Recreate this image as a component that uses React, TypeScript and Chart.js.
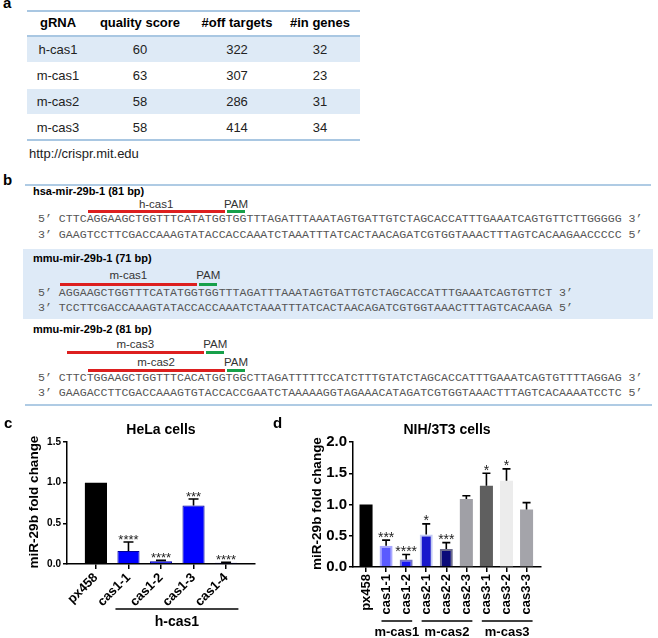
import React, { useEffect, useRef } from 'react';
import { Chart, registerables } from 'chart.js';
Chart.register(...registerables);

const FONT = '"Liberation Sans", Arial, Helvetica, sans-serif';
const MONO = '"Liberation Mono", "Courier New", monospace';

// ---------- panel a data ----------
const tableHeaders = ['gRNA', 'quality score', '#off targets', '#in genes'];
const gRNANames = ['h-cas1', 'm-cas1', 'm-cas2', 'm-cas3'];
const qualityScores = [60, 63, 58, 58];
const offTargets = [322, 307, 286, 414];
const inGenes = [32, 23, 31, 34];
const sourceUrl = 'http://crispr.mit.edu';

// ---------- panel b data ----------
const seqTitles = ['hsa-mir-29b-1 (81 bp)', 'mmu-mir-29b-1 (71 bp)', 'mmu-mir-29b-2 (81 bp)'];
const seqTop = [
  'CTTCAGGAAGCTGGTTTCATATGGTGGTTTAGATTTAAATAGTGATTGTCTAGCACCATTTGAAATCAGTGTTCTTGGGGG',
  'AGGAAGCTGGTTTCATATGGTGGTTTAGATTTAAATAGTGATTGTCTAGCACCATTTGAAATCAGTGTTCT',
  'CTTCTGGAAGCTGGTTTCACATGGTGGCTTAGATTTTTCCATCTTTGTATCTAGCACCATTTGAAATCAGTGTTTTAGGAG',
];
const seqBottom = [
  'GAAGTCCTTCGACCAAAGTATACCACCAAATCTAAATTTATCACTAACAGATCGTGGTAAACTTTAGTCACAAGAACCCCC',
  'TCCTTCGACCAAAGTATACCACCAAATCTAAATTTATCACTAACAGATCGTGGTAAACTTTAGTCACAAGA',
  'GAAGACCTTCGACCAAAGTGTACCACCGAATCTAAAAAGGTAGAAACATAGATCGTGGTAAACTTTAGTCACAAAATCCTC',
];
const guideNames = [['h-cas1'], ['m-cas1'], ['m-cas3', 'm-cas2']];
const guideStarts = [[4], [0], [1, 4]];
const guideLengths = [[20], [20], [20, 20]];
const pamLength = 3;

// ---------- panel c data ----------
const helaLabels = ['px458', 'cas1-1', 'cas1-2', 'cas1-3', 'cas1-4'];
const helaMeans = [1.0, 0.16, 0.035, 0.72, 0.015];
const helaErrors = [0, 0.11, 0.01, 0.08, 0.006];
const helaStars = ['', '****', '****', '***', '****'];
const helaGroupLabels = ['h-cas1'];
const helaGroupFrom = [1];
const helaGroupTo = [4];
const helaTicks = [0, 0.5, 1.0, 1.5];

// ---------- panel d data ----------
const nihLabels = ['px458', 'cas1-1', 'cas1-2', 'cas2-1', 'cas2-2', 'cas2-3', 'cas3-1', 'cas3-2', 'cas3-3'];
const nihMeans = [1.0, 0.34, 0.12, 0.52, 0.29, 1.09, 1.30, 1.38, 0.92];
const nihErrors = [0, 0.09, 0.08, 0.17, 0.10, 0.05, 0.20, 0.19, 0.11];
const nihStars = ['', '***', '****', '*', '***', '', '*', '*', ''];
const nihGroupLabels = ['m-cas1', 'm-cas2', 'm-cas3'];
const nihGroupFrom = [1, 3, 6];
const nihGroupTo = [2, 5, 8];
const nihTicks = [0, 0.5, 1.0, 1.5, 2.0];

const helaFill = ['#000000', '#0000ff', '#0000ff', '#0000ff', '#0000ff'];
const helaBorder = ['#000000', '#00009a', '#00009a', '#00009a', '#00009a'];
const nihFill = ['#000000', '#5a5aff', '#1616f2', '#1818cc', '#0b0b7a', '#a0a0a6', '#5f5f5f', '#ececec', '#a4a4aa'];
const nihBorder = ['#000000', '#a8a8ff', '#7474c4', '#c4ccf4', '#6c6c8c', '#a0a0a6', '#5f5f5f', '#ececec', '#a4a4aa'];

// ---------- helpers ----------
type TP = { x: number; y: number; s?: number; b?: boolean; a?: 'left' | 'center'; c?: string; f?: string; children: any };
function T({ x, y, s = 13, b = false, a = 'left', c = '#000', f = FONT, children }: TP) {
  return (
    <div
      style={{
        position: 'absolute', left: x, top: y - s, height: s * 2, lineHeight: `${s * 2}px`,
        fontSize: s, fontWeight: b ? 700 : 400, fontFamily: f, color: c, whiteSpace: 'pre',
        transform: a === 'center' ? 'translateX(-50%)' : undefined,
      }}
    >
      {children}
    </div>
  );
}
function Rect({ x, y, w, h, c }: { x: number; y: number; w: number; h: number; c: string }) {
  return <div style={{ position: 'absolute', left: x, top: y, width: w, height: h, background: c }} />;
}

function PanelA() {
  const colX = [58, 140, 237, 320];
  const rowTop = 36, rowH = 26;
  const lineC = '#a9c7e2';
  const rows = gRNANames.map((g, i) => [g, qualityScores[i], offTargets[i], inGenes[i]]);
  return (
    <>
      <T x={3} y={3} s={15} b>a</T>
      <Rect x={27} y={10} w={333} h={2} c={lineC} />
      {tableHeaders.map((h, j) => (
        <T key={h} x={colX[j]} y={23} s={13} b a="center">{h}</T>
      ))}
      <Rect x={27} y={35} w={333} h={2} c={lineC} />
      {rows.map((r, i) => (
        <React.Fragment key={i}>
          {i % 2 === 0 && <Rect x={27} y={rowTop + 1 + i * rowH} w={333} h={rowH - 1} c="#deeaf6" />}
          {r.map((v, j) => (
            <T key={j} x={colX[j]} y={rowTop + i * rowH + rowH / 2 + 0.5} s={13} a="center" c="#222">{String(v)}</T>
          ))}
        </React.Fragment>
      ))}
      <Rect x={27} y={139} w={333} h={2} c={lineC} />
      <T x={29} y={154} s={13} c="#222">{sourceUrl}</T>
    </>
  );
}

function PanelB() {
  const cw = 6.95;
  const fs = cw / 0.6;
  const seqX = 38;
  const baseX = seqX + 3 * cw;
  const lineC = '#afcbe4';
  const layout = [
    { title: 191, guides: [[204, 211]], top: 219, bottom: 235 },
    { title: 258, guides: [[275, 284]], top: 293, bottom: 308 },
    { title: 329, guides: [[344, 352], [362, 370]], top: 378, bottom: 393 },
  ];
  return (
    <>
      <T x={3} y={180} s={15} b>b</T>
      <Rect x={25} y={184} w={626} h={2} c={lineC} />
      <Rect x={23} y={249} w={630} h={70} c="#deeaf7" />
      {layout.map((L, k) => (
        <React.Fragment key={k}>
          <T x={33} y={L.title} s={11} b>{seqTitles[k]}</T>
          {guideNames[k].map((g, gi) => {
            const [ly, lny] = L.guides[gi];
            const s0 = baseX + guideStarts[k][gi] * cw;
            const s1 = baseX + (guideStarts[k][gi] + guideLengths[k][gi]) * cw;
            const p1 = s1 + pamLength * cw;
            return (
              <React.Fragment key={g}>
                <Rect x={s0 + 1} y={lny - 1.5} w={s1 - s0 - 2} h={3} c="#dd1f1f" />
                <Rect x={s1 + 1.5} y={lny - 1.5} w={p1 - s1 - 3} h={3} c="#17a04a" />
                <T x={(s0 + s1) / 2} y={ly} s={11.5} a="center" c="#333">{g}</T>
                <T x={(s1 + p1) / 2} y={ly} s={11.5} a="center" c="#333">PAM</T>
              </React.Fragment>
            );
          })}
          <T x={seqX} y={L.top} s={fs} f={MONO} c="#555">{'5\u2019 ' + seqTop[k] + ' 3\u2019'}</T>
          <T x={seqX} y={L.bottom} s={fs} f={MONO} c="#555">{'3\u2019 ' + seqBottom[k] + ' 5\u2019'}</T>
        </React.Fragment>
      ))}
      <Rect x={25} y={404} w={627} h={2} c={lineC} />
    </>
  );
}

type Cfg = {
  left: number; top: number; width: number; height: number;
  area: { left: number; top: number; right: number; bottom: number };
  labels: string[]; means: number[]; errors: number[]; stars: string[];
  fill: string[]; border: string[]; borderWidth: number[];
  xMin: number; xMax: number; rot: number; xTickFont: number; xTickPad: number; yTicks: number[]; yTickFont: number;
  barPct: number; capHalf: number; starSize: number; starOffset: number;
  title: string; letter: string; letterX: number; yTitleX: number;
  groupLabels: string[]; groupFrom: number[]; groupTo: number[];
  padL: number; padR: number; bracketY: number; groupLabelY: number; groupFont: number;
};

function overlay(cfg: Cfg) {
  return {
    id: 'overlay',
    afterDatasetsDraw(chart: any) {
      const ctx = chart.ctx;
      const xs = chart.scales.x, ys = chart.scales.y;
      ctx.save();
      ctx.strokeStyle = '#000';
      ctx.fillStyle = '#222';
      ctx.lineWidth = 1.6;
      cfg.means.forEach((m, i) => {
        const e = cfg.errors[i];
        const px = xs.getPixelForValue(i);
        const yt = ys.getPixelForValue(m + e);
        const yb = ys.getPixelForValue(m);
        if (e > 0) {
          ctx.beginPath();
          ctx.moveTo(px, yb);
          ctx.lineTo(px, yt);
          ctx.moveTo(px - cfg.capHalf, yt);
          ctx.lineTo(px + cfg.capHalf, yt);
          ctx.stroke();
        }
        if (cfg.stars[i]) {
          ctx.font = `${cfg.starSize}px ${FONT}`;
          ctx.textAlign = 'center';
          ctx.textBaseline = 'alphabetic';
          ctx.fillText(cfg.stars[i], px, yt + cfg.starOffset);
        }
      });
      ctx.restore();
    },
    afterDraw(chart: any) {
      const ctx = chart.ctx;
      const xs = chart.scales.x;
      const ca = chart.chartArea;
      ctx.save();
      ctx.fillStyle = '#000';
      ctx.strokeStyle = '#000';
      ctx.font = `bold 15px ${FONT}`;
      ctx.textAlign = 'left';
      ctx.textBaseline = 'alphabetic';
      ctx.fillText(cfg.letter, cfg.letterX, 18);
      ctx.font = `bold 14px ${FONT}`;
      ctx.textAlign = 'center';
      ctx.textBaseline = 'middle';
      ctx.fillText(cfg.title, (ca.left + ca.right) / 2, 20);
      ctx.save();
      ctx.translate(cfg.yTitleX, (ca.top + ca.bottom) / 2 - 1);
      ctx.rotate(-Math.PI / 2);
      ctx.font = `bold 13.5px ${FONT}`;
      ctx.fillText('miR-29b fold change', 0, 0);
      ctx.restore();
      ctx.lineWidth = 1.5;
      cfg.groupLabels.forEach((g, k) => {
        const x0 = xs.getPixelForValue(cfg.groupFrom[k] - cfg.padL);
        const x1 = xs.getPixelForValue(cfg.groupTo[k] + cfg.padR);
        ctx.beginPath();
        ctx.moveTo(x0, cfg.bracketY);
        ctx.lineTo(x1, cfg.bracketY);
        ctx.stroke();
        ctx.font = `bold ${cfg.groupFont}px ${FONT}`;
        ctx.fillText(g, (x0 + x1) / 2, cfg.groupLabelY);
      });
      ctx.restore();
    },
  };
}

function BarPanel({ cfg }: { cfg: Cfg }) {
  const ref = useRef<HTMLCanvasElement>(null);
  useEffect(() => {
    const canvas = ref.current!;
    const chart = new Chart(canvas, {
      type: 'bar',
      data: {
        datasets: [
          {
            data: cfg.means.map((v, i) => ({ x: i, y: v })),
            backgroundColor: cfg.fill,
            borderColor: cfg.border,
            borderWidth: cfg.borderWidth,
            barPercentage: cfg.barPct,
            categoryPercentage: 1,
          } as any,
        ],
      },
      options: {
        animation: false,
        responsive: false,
        maintainAspectRatio: false,
        layout: { padding: { left: 0, top: cfg.area.top, right: cfg.width - cfg.area.right, bottom: 0 } },
        plugins: { legend: { display: false }, tooltip: { enabled: false }, title: { display: false } },
        scales: {
          x: {
            type: 'linear',
            bounds: 'data',
            min: cfg.xMin,
            max: cfg.xMax,
            offset: false,
            grid: { offset: false, drawOnChartArea: false, drawTicks: true, tickLength: 5, color: '#000', lineWidth: 1.5 },
            border: { display: true, color: '#000', width: 1.5 },
            afterBuildTicks: (s: any) => { s.ticks = cfg.labels.map((_, i) => ({ value: i })); },
            afterFit: (s: any) => { s.height = cfg.height - cfg.area.bottom; },
            ticks: {
              autoSkip: false,
              minRotation: cfg.rot,
              maxRotation: cfg.rot,
              padding: cfg.xTickPad,
              color: '#000',
              font: { family: FONT, size: cfg.xTickFont, weight: 'bold' },
              callback: (v: any) => cfg.labels[Math.round(v)] ?? '',
            },
          },
          y: {
            min: 0,
            max: cfg.yTicks[cfg.yTicks.length - 1],
            grid: { drawOnChartArea: false, drawTicks: true, tickLength: 4, color: '#000', lineWidth: 1.5 },
            border: { display: true, color: '#000', width: 1.5 },
            afterBuildTicks: (s: any) => { s.ticks = cfg.yTicks.map((v) => ({ value: v })); },
            afterFit: (s: any) => { s.width = cfg.area.left; },
            ticks: {
              padding: 2,
              color: '#000',
              font: { family: FONT, size: cfg.yTickFont, weight: 'bold' },
              callback: (v: any) => Number(v).toFixed(1),
            },
          },
        },
      } as any,
      plugins: [overlay(cfg)],
    });
    return () => chart.destroy();
  }, []);
  return (
    <div style={{ position: 'absolute', left: cfg.left, top: cfg.top, width: cfg.width, height: cfg.height }}>
      <canvas ref={ref} width={cfg.width} height={cfg.height} />
    </div>
  );
}

const helaCfg: Cfg = {
  left: 0, top: 410, width: 270, height: 228,
  area: { left: 67, top: 32, right: 255, bottom: 154 },
  labels: helaLabels, means: helaMeans, errors: helaErrors, stars: helaStars,
  fill: helaFill, border: helaBorder, borderWidth: [0, 1, 1, 1, 1],
  xMin: -0.89, xMax: 4.89, rot: 45, xTickFont: 13, xTickPad: 1, yTicks: helaTicks, yTickFont: 10,
  barPct: 0.68, capHalf: 5, starSize: 13, starOffset: 2,
  title: 'HeLa cells', letter: 'c', letterX: 4, yTitleX: 34,
  groupLabels: helaGroupLabels, groupFrom: helaGroupFrom, groupTo: helaGroupTo,
  padL: 0.4, padR: 0.38, bracketY: 199, groupLabelY: 212, groupFont: 14,
};

const nihCfg: Cfg = {
  left: 270, top: 410, width: 388, height: 228,
  area: { left: 83, top: 32, right: 271, bottom: 157 },
  labels: nihLabels, means: nihMeans, errors: nihErrors, stars: nihStars,
  fill: nihFill, border: nihBorder, borderWidth: [0, 2, 2, 2, 2, 0, 0, 0, 0],
  xMin: -0.65, xMax: 8.72, rot: 90, xTickFont: 13, xTickPad: 2, yTicks: nihTicks, yTickFont: 15,
  barPct: 0.65, capHalf: 4, starSize: 14, starOffset: 1.5,
  title: 'NIH/3T3 cells', letter: 'd', letterX: 3, yTitleX: 47,
  groupLabels: nihGroupLabels, groupFrom: nihGroupFrom, groupTo: nihGroupTo,
  padL: 0.23, padR: 0.3, bracketY: 211, groupLabelY: 222, groupFont: 13,
};

export default function App() {
  return (
    <div style={{ position: 'absolute', left: 0, top: 0, width: 658, height: 638, background: '#fff', overflow: 'hidden', fontFamily: FONT }}>
      <PanelA />
      <PanelB />
      <BarPanel cfg={helaCfg} />
      <BarPanel cfg={nihCfg} />
    </div>
  );
}
